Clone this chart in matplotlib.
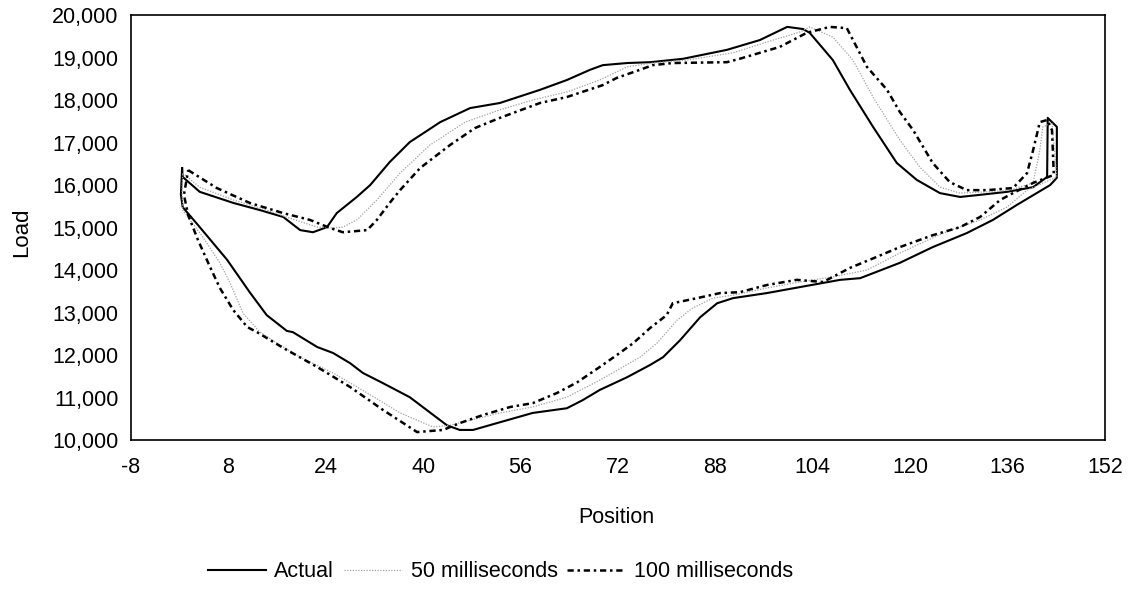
import matplotlib
matplotlib.use("Agg")
import matplotlib.pyplot as plt
from matplotlib.ticker import FuncFormatter

plt.rcParams['font.family'] = ['Liberation Sans', 'DejaVu Sans']
plt.rcParams['axes.unicode_minus'] = False

# Actual load/position loop
actual_pos = [0.4, 0.5, 3.3, 8.8, 13.2, 17.0, 19.8, 21.9, 24.2, 25.8, 29.1, 31.3,
              34.5, 37.8, 42.8, 47.7, 52.6, 59.2, 63.6, 67.4, 69.5, 73.5, 77.3,
              82.7, 89.9, 95.3, 99.8, 102.4, 103.5, 107.3, 110.1, 113.9, 117.8,
              121.1, 124.9, 128.2, 131.5, 135.9, 140.2, 142.5, 142.6, 143.3,
              144.1, 144.1, 143.0, 137.5, 133.6, 129.3, 123.7, 118.3, 111.8,
              108.5, 101.9, 96.5, 90.9, 88.3, 85.5, 82.2, 79.4, 77.3, 73.5, 69.0,
              66.2, 63.6, 58.0, 52.6, 48.2, 46.0, 43.9, 37.8, 33.4, 30.1, 28.0,
              25.2, 22.6, 18.6, 17.6, 14.3, 11.5, 7.8, 3.3, 0.5, 0.2, 0.4]
actual_load = [16400, 16190, 15840, 15580, 15410, 15250, 14940, 14890, 15010, 15340,
               15720, 16000, 16540, 17010, 17480, 17810, 17930, 18240, 18470, 18710,
               18820, 18870, 18890, 18970, 19180, 19410, 19720, 19670, 19580, 18940,
               18240, 17370, 16520, 16120, 15810, 15720, 15770, 15840, 15950, 16190,
               17580, 17480, 17370, 16170, 16000, 15530, 15180, 14870, 14540, 14170,
               13810, 13770, 13600, 13460, 13340, 13220, 12890, 12350, 11950, 11770,
               11480, 11180, 10940, 10750, 10640, 10420, 10240, 10240, 10350, 11010,
               11340, 11580, 11810, 12050, 12190, 12540, 12570, 12940, 13480, 14240,
               15010, 15480, 15770, 16400]

# 50 millisecond sampling
ms50_pos = [0.5, 3.3, 8.8, 14.3, 18.1, 22.6, 24.7, 26.8, 29.1, 32.4, 36.2, 41.1,
            46.9, 52.6, 58.0, 63.6, 69.0, 73.5, 77.7, 83.3, 90.9, 97.5, 101.9,
            103.5, 107.3, 110.6, 113.9, 118.3, 121.6, 124.9, 128.2, 132.6, 136.4,
            140.2, 141.3, 141.8, 143.3, 144.1, 139.2, 135.9, 131.5, 125.4, 118.3,
            112.9, 107.3, 101.9, 96.5, 90.9, 87.6, 84.3, 81.7, 78.4, 75.6, 72.8,
            69.0, 63.6, 58.0, 52.6, 49.8, 44.4, 41.6, 36.2, 30.8, 25.2, 19.8, 16.0,
            13.2, 10.4, 8.3, 6.6, 3.8, 0.5, 0.4, 0.5]
ms50_load = [16280, 15950, 15650, 15410, 15220, 15010, 14990, 15010, 15180, 15650,
             16280, 16940, 17480, 17770, 18000, 18190, 18470, 18780, 18870, 18940,
             19110, 19410, 19600, 19720, 19480, 18940, 18070, 17060, 16420, 15950,
             15810, 15840, 15880, 16050, 16820, 17370, 17460, 16190, 15880, 15480,
             15180, 14870, 14400, 14000, 13840, 13720, 13580, 13410, 13340, 13110,
             12820, 12280, 11950, 11720, 11410, 11010, 10780, 10640, 10540, 10350,
             10310, 10640, 11110, 11580, 11950, 12280, 12540, 12990, 13690, 14170,
             14780, 15410, 15880, 16280]

# 100 millisecond sampling
ms100_pos = [1.4, 6.1, 11.5, 17.0, 21.4, 24.7, 26.8, 30.8, 32.4, 34.5, 36.2, 39.5,
             44.4, 48.5, 52.6, 59.2, 63.6, 69.5, 71.8, 75.6, 77.7, 81.0, 89.9, 92.0,
             98.6, 103.0, 106.8, 109.6, 112.9, 116.2, 118.3, 120.5, 123.7, 126.5,
             129.3, 132.6, 136.9, 139.2, 140.2, 141.3, 142.5, 143.3, 143.6, 140.2,
             136.9, 134.8, 131.5, 128.2, 123.7, 118.3, 114.5, 110.1, 105.7, 101.4,
             96.5, 92.0, 88.8, 85.0, 81.0, 80.0, 77.3, 74.5, 71.8, 69.0, 65.3, 62.0,
             58.0, 54.3, 49.8, 46.0, 43.3, 39.0, 33.4, 28.0, 22.6, 17.0, 12.7, 11.1,
             8.8, 6.6, 5.0, 3.0, 1.4, 0.7, 1.4]
ms100_load = [16350, 15930, 15580, 15340, 15180, 14990, 14890, 14940, 15180, 15580,
              15880, 16400, 16940, 17340, 17580, 17930, 18070, 18350, 18520, 18710,
              18820, 18870, 18890, 18970, 19250, 19580, 19720, 19690, 18780, 18240,
              17720, 17290, 16520, 16070, 15880, 15880, 15930, 16280, 16820, 17480,
              17530, 17290, 16240, 16050, 15810, 15650, 15250, 15010, 14820, 14540,
              14310, 14050, 13720, 13770, 13650, 13480, 13460, 13340, 13220, 12940,
              12640, 12280, 12000, 11720, 11360, 11110, 10870, 10780, 10590, 10400,
              10240, 10190, 10710, 11250, 11720, 12170, 12540, 12660, 13060, 13580,
              14070, 14710, 15290, 15770, 16350]

x_ticks = list(range(-8, 153, 16))

fig = plt.figure(figsize=(11.32, 5.90), dpi=100)
ax = fig.add_axes([0.1157, 0.254, 0.8604, 0.7206])

ax.plot(actual_pos, actual_load, color='black', linewidth=1.5, label='Actual')
ax.plot(ms50_pos, ms50_load, color='#a0a0a0', linewidth=0.9, linestyle=(0, (1, 1.2)),
        label='50 milliseconds')
ax.plot(ms100_pos, ms100_load, color='black', linewidth=1.8,
        linestyle=(0, (2.5, 1.5, 1, 1.5)), label='100 milliseconds')

ax.set_xlim(-8, 152)
ax.set_ylim(10000, 20000)
ax.set_xticks(x_ticks)
ax.set_yticks(range(10000, 20001, 1000))
ax.yaxis.set_major_formatter(FuncFormatter(lambda v, p: f'{int(v):,}'))
ax.tick_params(length=0, labelsize=15.5)
ax.tick_params(axis='y', pad=9)
ax.tick_params(axis='x', pad=12)
for s in ax.spines.values():
    s.set_linewidth(1.2)
    s.set_color('black')

ax.set_xlabel('Position', fontsize=15.5)
ax.set_ylabel('Load', fontsize=16)
ax.xaxis.set_label_coords(0.498, -0.157)
ax.yaxis.set_label_coords(-0.101, 0.49)

fig.legend(loc='center', bbox_to_anchor=(0.442, 0.031), ncol=3, frameon=False,
           fontsize=15.5, handlelength=2.7, handletextpad=0.4, columnspacing=0.45)

fig.savefig('out.png', dpi=100)
